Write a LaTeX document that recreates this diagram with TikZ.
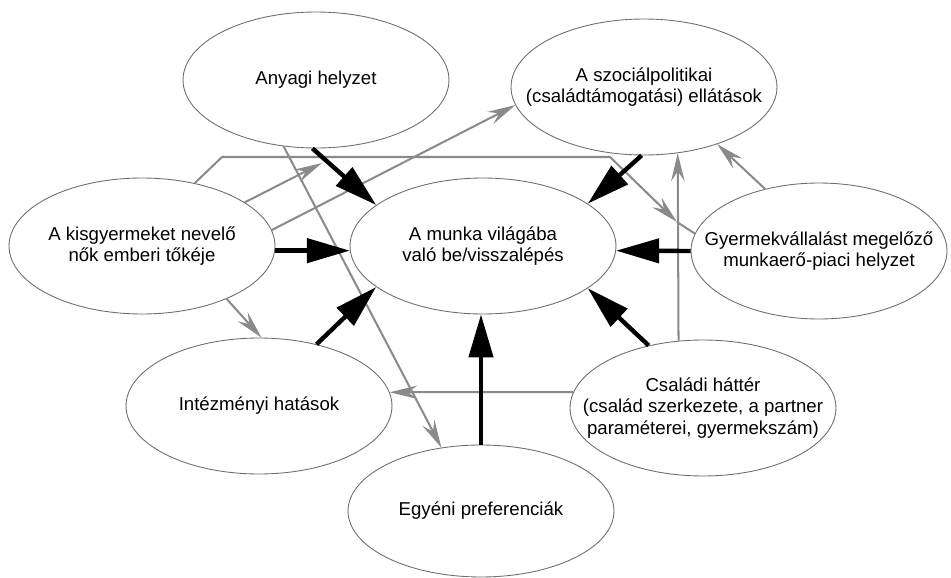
\documentclass[tikz,border=0pt]{standalone}
\usepackage{fontspec}
\setmainfont{Liberation Sans}
\usetikzlibrary{arrows.meta,shapes.geometric}
\definecolor{rim}{HTML}{6E6E6E}
\definecolor{link}{HTML}{8A8A8A}
\tikzset{
  bubble/.style={ellipse,draw=rim,line width=.5pt,fill=white,minimum width=5.32cm,minimum height=2.72cm,inner sep=0pt},
  txt/.style={align=center,font=\fontsize{10.6}{12.3}\selectfont,text=black},
  effect/.style={-{Triangle[length=8.6mm,width=4.8mm]},line width=2.5pt,color=black},
  sidelink/.style={-{Stealth[length=5.6mm,width=2.7mm,inset=2mm]},line width=1.15pt,color=link},
  plainlink/.style={line width=1.15pt,color=link},
}

\begin{document}
\begin{tikzpicture}[x=0.02cm,y=-0.02cm]
  \useasboundingbox (0,0) rectangle (951,578);

  \node[bubble,label={[txt]center:Anyagi helyzet}] (anyagi) at (316,80) {};
  \node[bubble,label={[txt]center:{A szociálpolitikai\\(családtámogatási) ellátások}}] (szoc) at (644,87) {};
  \node[bubble,label={[txt]center:{A munka világába\\való be/visszalépés}}] (munka) at (483,246) {};
  \node[bubble,label={[txt]center:{A kisgyermeket nevelő\\nők emberi tőkéje}}] (kisgy) at (142,246) {};
  \node[bubble,minimum width=5.12cm,label={[txt]center:{Gyermekvállalást megelőző\\munkaerő-piaci helyzet}}] (gyerm) at (819,251) {};
  \node[bubble,label={[txt]center:Intézményi hatások}] (intez) at (259,406) {};
  \node[bubble,label={[txt]center:{Családi háttér\\(család szerkezete, a partner\\paraméterei, gyermekszám)}}] (csal) at (703,408) {};
  \node[bubble,minimum height=2.64cm,label={[txt]center:Egyéni preferenciák}] (egyeni) at (481,511) {};

  \coordinate (kisend) at (322,163);
  \coordinate (cross) at (677,222);

  \draw[sidelink] (kisgy.23) -- (kisend);
  \draw[sidelink] (kisgy.7) -- (szoc.-172);
  \draw[sidelink] (kisgy.50) -- (222,157) -- (610,157) -- (cross);
  \draw[plainlink] (cross) -- (gyerm.172);
  \draw[sidelink] (csal.110) -- (szoc.-63);
  \draw[sidelink] (gyerm.131) -- (szoc.-38);
  \draw[sidelink] (csal.173) -- (intez.6);
  \draw[sidelink] (kisgy.-32) -- (intez.88);
  \draw[sidelink] (anyagi.-116) -- (egyeni.122);

  \draw[effect] (anyagi.-93) -- (munka.159);
  \draw[effect] (szoc.-92) -- (munka.22);
  \draw[effect] (kisgy.-2) -- (munka.182);
  \draw[effect] (gyerm.west) -- (munka.-2);
  \draw[effect] (intez.47.5) -- (munka.-159);
  \draw[effect] (csal.131.6) -- (munka.-22);
  \draw[effect] (egyeni.north) -- (egyeni.north |- munka.south);
\end{tikzpicture}
\end{document}
